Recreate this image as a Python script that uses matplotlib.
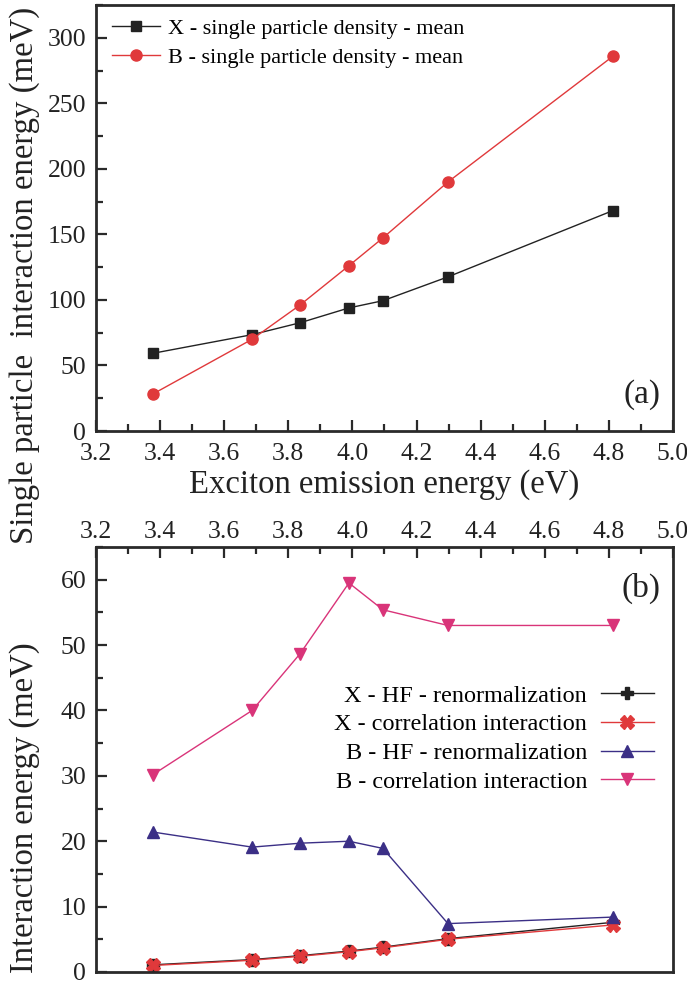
import matplotlib
matplotlib.use("Agg")
import matplotlib.pyplot as plt
from matplotlib.ticker import MultipleLocator

plt.rcParams['font.family'] = ['Liberation Serif', 'DejaVu Serif']
plt.rcParams['mathtext.fontset'] = 'stix'

# Exciton emission energies (eV)
energy = [3.378, 3.687, 3.837, 3.989, 4.095, 4.298, 4.813]

# Panel (a): single particle interaction energy (meV)
x_sp_mean = [59.3, 73.5, 82.6, 93.9, 99.4, 117.6, 168.2]
b_sp_mean = [28.3, 70.0, 96.2, 126.1, 147.3, 190.0, 286.0]

# Panel (b): interaction energy components (meV)
x_hf = [1.1, 1.9, 2.5, 3.2, 3.8, 5.1, 7.6]
x_corr = [1.0, 1.8, 2.4, 3.1, 3.7, 5.0, 7.2]
b_hf = [21.4, 19.1, 19.7, 20.0, 18.9, 7.4, 8.4]
b_corr = [30.2, 40.0, 48.7, 59.5, 55.4, 53.0, 53.0]

W, H = 687, 983
fig = plt.figure(figsize=(W / 100, H / 100), dpi=100)

def rect(x0, y0, x1, y1):
    return [x0 / W, 1 - y1 / H, (x1 - x0) / W, (y1 - y0) / H]

ax1 = fig.add_axes(rect(96, 5, 673, 431))
ax2 = fig.add_axes(rect(96, 547, 673, 972))

spine_c = '#2a2a2a'
for ax in (ax1, ax2):
    for s in ax.spines.values():
        s.set_linewidth(2.0)
        s.set_color(spine_c)
    ax.set_xlim(3.2, 5.0)
    ax.xaxis.set_major_locator(MultipleLocator(0.2))
    ax.xaxis.set_minor_locator(MultipleLocator(0.1))
    ax.tick_params(which='both', direction='in', width=1.6, color=spine_c,
                   labelsize=18.5, labelcolor='#222222')
    ax.tick_params(which='major', length=8)
    ax.tick_params(which='minor', length=5)
    ax.tick_params(axis='y', pad=7)
    ax.xaxis.set_major_formatter(plt.FuncFormatter(lambda v, p: f"{v:.1f}"))

# Panel (a)
ax1.plot(energy, x_sp_mean, color='#222222', lw=1.0, marker='s', ms=7,
         label='X - single particle density - mean')
ax1.plot(energy, b_sp_mean, color='#e0393b', lw=1.0, marker='o', ms=8,
         label='B - single particle density - mean')
ax1.set_ylim(0, 325)
ax1.yaxis.set_major_locator(MultipleLocator(50))
ax1.yaxis.set_minor_locator(MultipleLocator(25))
ax1.tick_params(top=False, right=False, which='both')
ax1.tick_params(axis='x', pad=9)
ax1.set_xlabel('Exciton emission energy (eV)', fontsize=23.5, color='#222222',
               labelpad=3)
ax1.legend(loc='upper left', bbox_to_anchor=(0.0, 1.005), frameon=False,
           fontsize=16, handlelength=2.2, handletextpad=0.35,
           labelspacing=0.38, borderaxespad=0.3)
ax1.text(0.978, 0.05, '(a)', transform=ax1.transAxes, ha='right', va='bottom',
         fontsize=24, color='#222222')

# Panel (b)
ax2.plot(energy, x_hf, color='#222222', lw=1.0, marker='P', ms=9,
         mec='#222222', label='X - HF - renormalization')
ax2.plot(energy, x_corr, color='#e0393b', lw=1.0, marker='X', ms=10,
         label='X - correlation interaction')
ax2.plot(energy, b_hf, color='#3b2f86', lw=1.0, marker='^', ms=9,
         label='B - HF - renormalization')
ax2.plot(energy, b_corr, color='#d93479', lw=1.0, marker='v', ms=9,
         label='B - correlation interaction')
ax2.set_ylim(0, 65)
ax2.yaxis.set_major_locator(MultipleLocator(10))
ax2.yaxis.set_minor_locator(MultipleLocator(5))
ax2.xaxis.tick_top()
ax2.tick_params(bottom=False, labelbottom=False, top=True, labeltop=True,
                right=False, which='both')
ax2.tick_params(axis='x', pad=3)
ax2.legend(loc='upper right', bbox_to_anchor=(1.005, 0.727), frameon=False,
           fontsize=17.5, markerfirst=False, handlelength=2.2,
           handletextpad=0.55, labelspacing=0.27)
ax2.text(0.978, 0.94, '(b)', transform=ax2.transAxes, ha='right', va='top',
         fontsize=24, color='#222222')

fig.text(25 / W, 1 - 275 / H, 'Single particle  interaction energy (meV)',
         rotation=90, ha='center', va='center', fontsize=23.6, color='#222222')
fig.text(25 / W, 1 - 808 / H, 'Interaction energy (meV)',
         rotation=90, ha='center', va='center', fontsize=23.5, color='#222222')

fig.savefig('out.png', dpi=100)
